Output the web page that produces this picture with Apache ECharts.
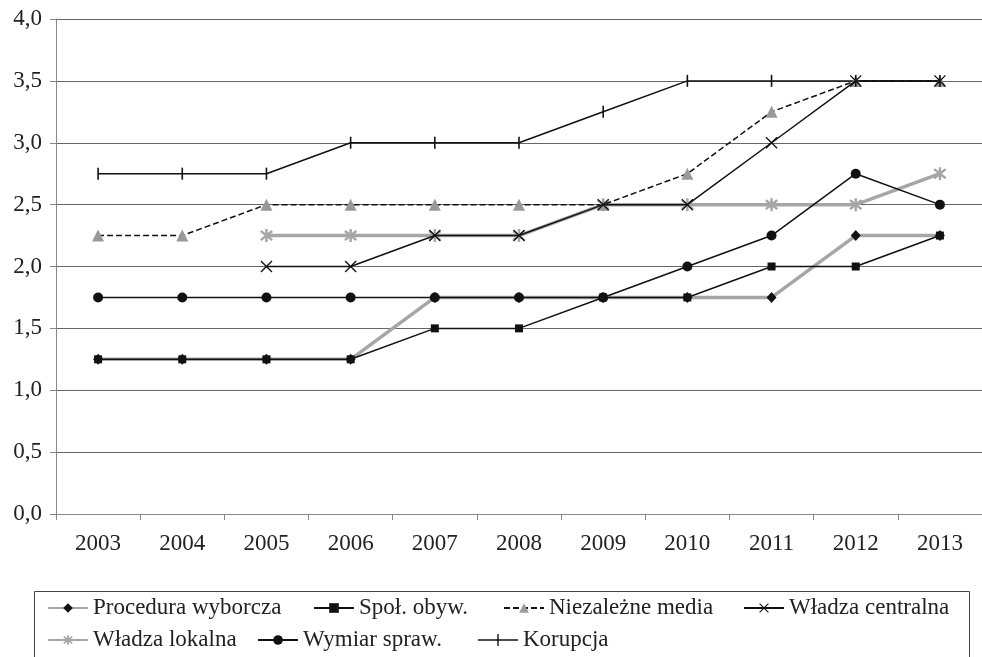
<!DOCTYPE html>
<html>
<head>
<meta charset="utf-8">
<script src="https://cdn.jsdelivr.net/npm/echarts@6/dist/echarts.min.js"></script>
<style>
html,body{margin:0;padding:0;background:#fff;}
#c{width:982px;height:657px;}
</style>
</head>
<body>
<div id="c"></div>
<script>
// ---- data ----
const years = ['2003','2004','2005','2006','2007','2008','2009','2010','2011','2012','2013'];
const seriesNames = ['Procedura wyborcza','Społ. obyw.','Niezależne media','Władza centralna','Władza lokalna','Wymiar spraw.','Korupcja'];
const proceduraWyborcza = [1.25,1.25,1.25,1.25,1.75,1.75,1.75,1.75,1.75,2.25,2.25];
const spolObyw          = [1.25,1.25,1.25,1.25,1.5,1.5,1.75,1.75,2.0,2.0,2.25];
const niezalezneMedia   = [2.25,2.25,2.5,2.5,2.5,2.5,2.5,2.75,3.25,3.5,3.5];
const wladzaCentralna   = [null,null,2.0,2.0,2.25,2.25,2.5,2.5,3.0,3.5,3.5];
const wladzaLokalna     = [null,null,2.25,2.25,2.25,2.25,2.5,2.5,2.5,2.5,2.75];
const wymiarSpraw       = [1.75,1.75,1.75,1.75,1.75,1.75,1.75,2.0,2.25,2.75,2.5];
const korupcja          = [2.75,2.75,2.75,3.0,3.0,3.0,3.25,3.5,3.5,3.5,3.5];
const yMin = 0, yMax = 4, yStep = 0.5;

// ---- marker shapes (stroke segments turned into filled paths) ----
function strokePath(segs, t) {
  let d = '';
  segs.forEach(([x1,y1,x2,y2]) => {
    const dx = x2-x1, dy = y2-y1, L = Math.hypot(dx,dy);
    const nx = -dy/L*t, ny = dx/L*t;
    const p = [[x1+nx,y1+ny],[x2+nx,y2+ny],[x2-nx,y2-ny],[x1-nx,y1-ny]];
    d += 'M' + p.map(q => q[0].toFixed(2)+','+q[1].toFixed(2)).join('L') + 'Z';
  });
  return 'path://' + d;
}
const xSymbol = strokePath([[0,0,100,100],[100,0,0,100]], 6);
const starSymbol = strokePath([[50,0,50,100],[8,15,92,85],[92,15,8,85]], 9);
const tickSymbol = 'path://M0,0L2,0L2,20L0,20Z';
const tickLegendIcon = 'path://M0,5.3L40,5.3L40,6.7L0,6.7Z M19.3,0L20.7,0L20.7,12L19.3,12Z';

const FONT = "'Liberation Serif', 'Times New Roman', 'DejaVu Serif', serif";
const BLACK = '#111';
const GRAY = '#a6a6a6';

const chart = echarts.init(document.getElementById('c'), null, {renderer:'canvas'});

function mkLegend(name, left, top, icon) {
  const item = icon ? {name: name, icon: icon} : name;
  return {
    data: [item], left: left, top: top, padding: 0, orient: 'horizontal',
    itemWidth: 40, itemHeight: 12, itemGap: 0, selectedMode: false,
    textStyle: {fontFamily: FONT, fontSize: 23, color: '#222', lineHeight: 26}
  };
}

const option = {
  backgroundColor: '#fff',
  animation: false,
  textStyle: {fontFamily: FONT},
  grid: {left: 56, right: -9, top: 19, bottom: 143, containLabel: false},
  legend: [
    mkLegend(seriesNames[0], 47, 595),
    mkLegend(seriesNames[1], 313, 595),
    mkLegend(seriesNames[2], 503, 595),
    mkLegend(seriesNames[3], 743, 595),
    mkLegend(seriesNames[4], 47, 627),
    mkLegend(seriesNames[5], 257, 627),
    mkLegend(seriesNames[6], 478, 627, tickLegendIcon)
  ],
  graphic: [{
    type: 'rect', shape: {x: 34.5, y: 591.5, width: 935, height: 90},
    style: {fill: 'none', stroke: '#444', lineWidth: 1}, silent: true, z: -1
  }],
  xAxis: {
    type: 'category', data: years, boundaryGap: true,
    axisLine: {show: true, lineStyle: {color: '#888', width: 1}},
    axisTick: {show: true, length: 6, lineStyle: {color: '#888'}},
    axisLabel: {fontFamily: FONT, fontSize: 23, color: '#222', margin: 18},
    splitLine: {show: false}
  },
  yAxis: {
    type: 'value', min: yMin, max: yMax, interval: yStep,
    axisLine: {show: true, lineStyle: {color: '#888', width: 1}},
    axisTick: {show: true, length: 6, lineStyle: {color: '#888'}},
    axisLabel: {fontFamily: FONT, fontSize: 23, color: '#222', margin: 14,
      formatter: v => v.toFixed(1).replace('.', ',')},
    splitLine: {show: true, lineStyle: {color: '#666', width: 1}}
  },
  series: [
    {name: seriesNames[0], type: 'line', data: proceduraWyborcza, z: 2,
     symbol: 'diamond', symbolSize: [10, 11], itemStyle: {color: BLACK},
     lineStyle: {color: GRAY, width: 3.5}},
    {name: seriesNames[1], type: 'line', data: spolObyw, z: 3,
     symbol: 'rect', symbolSize: 8, itemStyle: {color: BLACK},
     lineStyle: {color: BLACK, width: 1.5}},
    {name: seriesNames[2], type: 'line', data: niezalezneMedia, z: 3,
     symbol: 'triangle', symbolSize: [12, 12], itemStyle: {color: '#999'},
     lineStyle: {color: BLACK, width: 1.5, type: [6, 3]}},
    {name: seriesNames[3], type: 'line', data: wladzaCentralna, z: 4,
     symbol: xSymbol, symbolSize: 12, itemStyle: {color: BLACK},
     lineStyle: {color: BLACK, width: 1.5}},
    {name: seriesNames[4], type: 'line', data: wladzaLokalna, z: 2,
     symbol: starSymbol, symbolSize: 13, itemStyle: {color: GRAY},
     lineStyle: {color: GRAY, width: 3.5}},
    {name: seriesNames[5], type: 'line', data: wymiarSpraw, z: 3,
     symbol: 'circle', symbolSize: 10, itemStyle: {color: BLACK},
     lineStyle: {color: BLACK, width: 1.5}},
    {name: seriesNames[6], type: 'line', data: korupcja, z: 3,
     symbol: tickSymbol, symbolSize: [1.6, 12], itemStyle: {color: BLACK},
     lineStyle: {color: BLACK, width: 1.5}}
  ]
};
chart.setOption(option);
</script>
</body>
</html>
